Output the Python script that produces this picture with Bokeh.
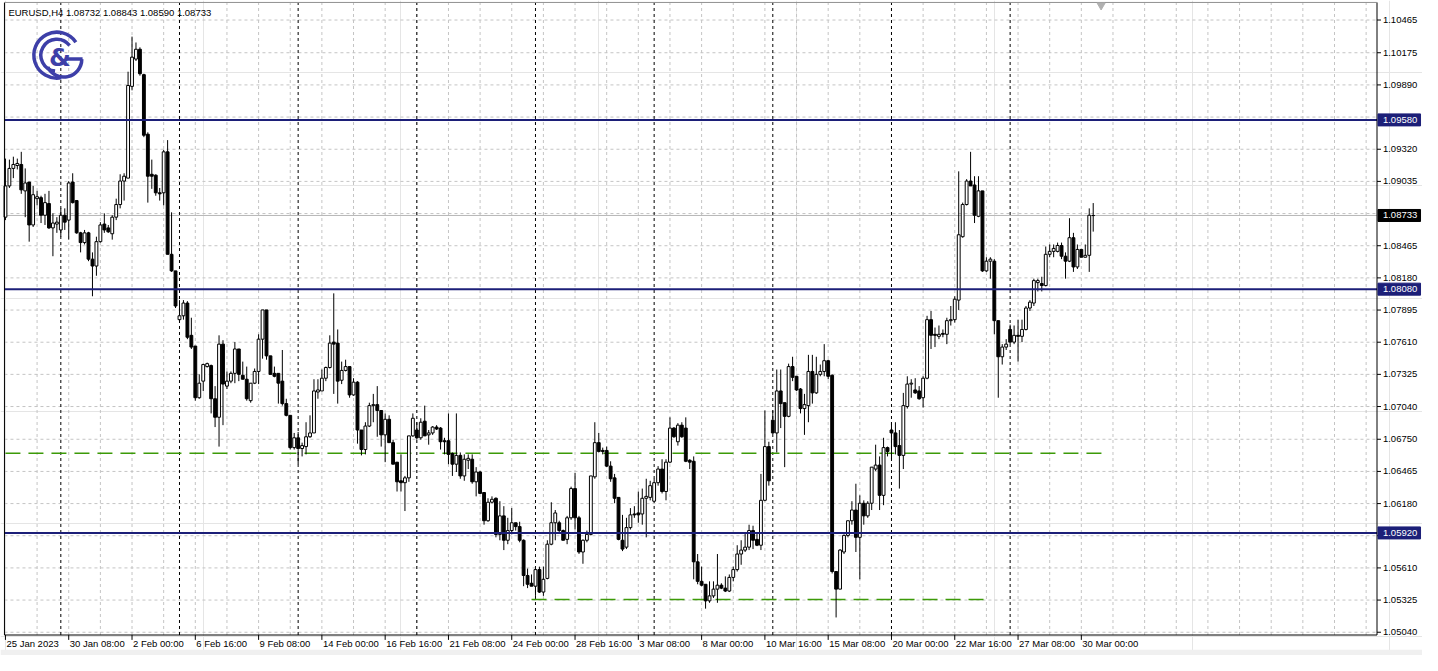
from bokeh.plotting import figure
from bokeh.models import ColumnDataSource, Range1d
from bokeh.core.properties import value
from bokeh.embed import file_html
from bokeh.resources import INLINE

header_text = "EURUSD,H4  1.08732 1.08843 1.08590 1.08733"

opens = [1.08718,1.08995,1.09150,1.09176,1.09185,1.08951,1.09029,1.08649,1.08882,1.08891,
1.08735,1.08839,1.08623,1.08657,1.08605,1.08735,1.08692,1.09029,1.08865,1.08579,
1.08493,1.08579,1.08346,1.08285,1.08501,1.08657,1.08623,1.08571,1.08718,1.08830,
1.09038,1.09064,1.09877,1.10119,1.10206,1.09981,1.09453,1.09098,1.09090,1.08934,
1.08934,1.09297,1.08389,1.08242,1.07810,1.07844,1.07957,1.07671,1.07576,1.07118,
1.07265,1.07394,1.07403,1.07109,1.06945,1.07593,1.07221,1.07265,1.07334,1.07550,
1.07317,1.07282,1.07092,1.07247,1.07351,1.07637,1.07896,1.07489,1.07334,1.07334,
1.07265,1.07066,1.06962,1.06676,1.06763,1.06668,1.06685,1.06772,1.06806,1.07169,
1.07178,1.07291,1.07386,1.07611,1.07602,1.07273,1.07360,1.07394,1.07143,1.07256,
1.06832,1.06659,1.06867,1.07048,1.07057,1.07005,1.06789,1.06927,1.06720,1.06547,
1.06382,1.06365,1.06408,1.06780,1.06832,1.06763,1.06910,1.06789,1.06806,1.06858,
1.06849,1.06737,1.06737,1.06624,1.06529,1.06607,1.06425,1.06564,1.06573,1.06373,
1.06460,1.06278,1.06028,1.06192,1.06227,1.05907,1.06071,1.05855,1.05941,1.06010,
1.05976,1.05855,1.05543,1.05474,1.05448,1.05595,1.05396,1.05517,1.05820,1.06010,
1.06010,1.05941,1.05863,1.06054,1.06313,1.06054,1.05751,1.05855,1.05907,1.06417,
1.06720,1.06651,1.06651,1.06512,1.06408,1.06235,1.05855,1.05794,1.05967,1.06088,
1.06097,1.06088,1.06227,1.06235,1.06201,1.06365,1.06486,1.06287,1.06547,1.06849,
1.06728,1.06875,1.06849,1.06564,1.06555,
1.05664,1.05491,1.05465,1.05318,1.05362,1.05422,1.05457,1.05431,1.05405,1.05526,
1.05595,1.05733,1.05768,1.05794,1.05941,1.05863,1.05811,1.06209,1.06685,1.06919,
1.06806,1.07178,1.07074,1.06953,1.07394,1.07308,1.07195,1.07022,1.07048,1.07351,
1.07161,1.07325,1.07351,1.07446,1.07317,1.05578,1.05422,1.05751,1.05898,1.06028,
1.06123,1.05881,1.06183,1.06071,1.06183,1.06486,1.06521,1.06253,1.06676,1.06832,
1.06806,1.06694,1.06607,1.07040,1.07239,1.07187,1.07178,1.07118,1.07291,1.07810,
1.07680,1.07662,1.07688,1.07680,1.07801,1.07810,1.07983,1.08545,1.08830,1.09038,
1.09003,1.08726,1.08951,1.08242,1.08328,1.08328,1.07801,1.07481,1.07567,1.07723,
1.07611,1.07671,1.07662,1.07723,1.07913,1.07957,1.08138,1.08130,1.08112,1.08389,
1.08415,1.08415,1.08467,1.08372,1.08328,1.08536,1.08277,1.08432,1.08363,1.08380,1.08732]

highs = [1.09237,1.09228,1.09254,1.09237,1.09297,1.09150,1.09029,1.08995,1.08951,1.08908,
1.08925,1.08951,1.08752,1.08718,1.08796,1.08796,1.09038,1.09107,1.08865,1.08588,
1.08605,1.08588,1.08406,1.08545,1.08674,1.08752,1.08649,1.08735,1.08882,1.09098,
1.09107,1.10007,1.10318,1.10266,1.10223,1.09989,1.09470,1.09228,1.09098,1.08977,
1.09315,1.09401,1.08761,1.08242,1.07983,1.07983,1.07974,1.07827,1.07576,1.07325,
1.07420,1.07429,1.07412,1.07221,1.07671,1.07628,1.07351,1.07351,1.07611,1.07550,
1.07438,1.07394,1.07247,1.07377,1.07680,1.07896,1.07896,1.07489,1.07394,1.07334,
1.07541,1.07109,1.06962,1.06806,1.06815,1.06720,1.06901,1.06962,1.07282,1.07282,
1.07368,1.07394,1.07671,1.08043,1.07723,1.07438,1.07455,1.07394,1.07291,1.07265,
1.06832,1.06901,1.07074,1.07152,1.07221,1.07005,1.06979,1.06962,1.06746,1.06547,
1.06616,1.06425,1.06780,1.06979,1.06901,1.06936,1.07048,1.06832,1.06867,1.06875,
1.06858,1.06763,1.06979,1.06633,1.06979,1.06633,1.06616,1.06616,1.06616,1.06503,
1.06469,1.06278,1.06227,1.06244,1.06235,1.06201,1.06157,1.06054,1.06140,1.06010,
1.06019,1.05863,1.05604,1.05552,1.05604,1.05621,1.05621,1.05855,1.06192,1.06123,
1.06028,1.05950,1.06071,1.06330,1.06451,1.06071,1.05863,1.05941,1.06425,1.06901,
1.06806,1.06676,1.06685,1.06555,1.06443,1.06235,1.06080,1.06054,1.06140,1.06157,
1.06287,1.06313,1.06400,1.06382,1.06400,1.06512,1.06573,1.06573,1.06944,1.06858,
1.06893,1.06901,1.06944,1.06573,1.06598,
1.05733,1.05621,1.05465,1.05491,1.05491,1.05733,1.05474,1.05535,1.05552,1.05621,
1.05811,1.05855,1.05924,1.05993,1.05984,1.05924,1.06443,1.07005,1.06728,1.07005,
1.07368,1.07368,1.07074,1.07420,1.07481,1.07308,1.07204,1.07152,1.07498,1.07498,
1.07481,1.07412,1.07593,1.07455,1.07325,1.05578,1.05777,1.05907,1.06028,1.06201,
1.06356,1.06253,1.06209,1.06201,1.06503,1.06702,1.06598,1.06763,1.06685,1.06901,
1.06901,1.06832,1.07161,1.07308,1.07282,1.07291,1.07221,1.07308,1.07844,1.07887,
1.07740,1.07758,1.07723,1.07827,1.07931,1.08017,1.09124,1.08847,1.09055,1.09297,
1.09081,1.09081,1.08951,1.08363,1.08363,1.08346,1.07801,1.07593,1.07637,1.07766,
1.07758,1.07810,1.07810,1.07931,1.07983,1.08173,1.08173,1.08190,1.08458,1.08476,
1.08476,1.08493,1.08493,1.08406,1.08709,1.08579,1.08476,1.08432,1.08476,1.08796,1.08843]

lows = [1.08692,1.08977,1.09064,1.09141,1.08925,1.08718,1.08501,1.08631,1.08822,1.08666,
1.08649,1.08614,1.08372,1.08579,1.08545,1.08605,1.08519,1.08839,1.08571,1.08406,
1.08476,1.08328,1.08017,1.08199,1.08493,1.08579,1.08579,1.08519,1.08692,1.08796,
1.08865,1.09064,1.09842,1.10102,1.09972,1.09427,1.08847,1.08969,1.08908,1.08865,
1.08822,1.08389,1.08233,1.07913,1.07810,1.07810,1.07637,1.07550,1.07092,1.07109,
1.07178,1.07386,1.06979,1.06858,1.06685,1.06875,1.07195,1.07247,1.07247,1.07265,
1.07282,1.07092,1.07074,1.07239,1.07239,1.07464,1.07455,1.07325,1.07299,1.07066,
1.07048,1.06953,1.06659,1.06659,1.06529,1.06598,1.06616,1.06763,1.06806,1.07109,
1.07178,1.07265,1.07377,1.07152,1.07066,1.07239,1.07351,1.07118,1.07135,1.06711,
1.06607,1.06616,1.06858,1.06901,1.06772,1.06685,1.06547,1.06720,1.06529,1.06287,
1.06287,1.06114,1.06373,1.06772,1.06746,1.06746,1.06780,1.06702,1.06789,1.06832,
1.06659,1.06616,1.06529,1.06425,1.06460,1.06400,1.06382,1.06486,1.06356,1.06244,
1.06270,1.05993,1.06019,1.06183,1.05881,1.05855,1.05768,1.05820,1.05907,1.05941,
1.05837,1.05448,1.05431,1.05448,1.05362,1.05388,1.05362,1.05509,1.05811,1.05855,
1.05924,1.05855,1.05820,1.06036,1.05950,1.05734,1.05647,1.05837,1.05898,1.06400,
1.06633,1.06616,1.06503,1.06373,1.06183,1.05855,1.05759,1.05777,1.05950,1.06054,
1.06010,1.05993,1.05881,1.06209,1.06192,1.06339,1.06270,1.06209,1.06538,1.06763,
1.06694,1.06763,1.06547,1.06486,1.05509,
1.05465,1.05448,1.05249,1.05301,1.05344,1.05301,1.05422,1.05396,1.05396,1.05491,
1.05578,1.05638,1.05751,1.05768,1.05777,1.05803,1.05768,1.06201,1.06339,1.06798,
1.06633,1.06849,1.06503,1.06945,1.07265,1.07178,1.06979,1.06789,1.06901,1.07066,
1.07152,1.07308,1.07308,1.07282,1.05561,1.05171,1.05422,1.05733,1.05881,1.05993,
1.05751,1.05509,1.05993,1.06054,1.06123,1.06469,1.06123,1.06166,1.06598,1.06573,
1.06616,1.06313,1.06486,1.07022,1.07118,1.07152,1.07100,1.07031,1.07282,1.07550,
1.07567,1.07637,1.07654,1.07593,1.07758,1.07784,1.07896,1.08536,1.08822,1.08995,
1.08666,1.08718,1.08233,1.08233,1.08173,1.07680,1.07118,1.07412,1.07541,1.07593,
1.07593,1.07438,1.07611,1.07714,1.07887,1.07931,1.08060,1.08060,1.08104,1.08363,
1.08363,1.08406,1.08346,1.08173,1.08320,1.08233,1.08259,1.08363,1.08363,1.08233,1.08590]

closes = [1.08995,1.09150,1.09185,1.09194,1.08960,1.09021,1.08649,1.08917,1.08899,1.08735,
1.08847,1.08623,1.08666,1.08674,1.08735,1.08674,1.09021,1.08847,1.08579,1.08493,
1.08579,1.08346,1.08285,1.08501,1.08649,1.08605,1.08588,1.08718,1.08830,1.09038,
1.09081,1.09885,1.10136,1.10206,1.09989,1.09444,1.09081,1.09081,1.08934,1.08925,
1.09297,1.08389,1.08242,1.07931,1.07844,1.07957,1.07654,1.07567,1.07118,1.07247,
1.07412,1.07420,1.07109,1.06945,1.07593,1.07239,1.07265,1.07334,1.07550,1.07325,
1.07282,1.07109,1.07247,1.07351,1.07637,1.07896,1.07489,1.07325,1.07308,1.07247,
1.07066,1.06962,1.06676,1.06763,1.06668,1.06694,1.06772,1.06806,1.07178,1.07187,
1.07291,1.07386,1.07602,1.07593,1.07265,1.07360,1.07394,1.07143,1.07256,1.06832,
1.06659,1.06867,1.07048,1.07057,1.07005,1.06789,1.06927,1.06720,1.06529,1.06373,
1.06365,1.06408,1.06780,1.06936,1.06763,1.06901,1.06780,1.06806,1.06858,1.06841,
1.06728,1.06728,1.06616,1.06529,1.06607,1.06425,1.06573,1.06581,1.06373,1.06460,
1.06270,1.06028,1.06192,1.06218,1.05907,1.06071,1.05855,1.05941,1.06010,1.05976,
1.05855,1.05543,1.05465,1.05448,1.05595,1.05396,1.05509,1.05820,1.06010,1.06097,
1.05941,1.05855,1.06054,1.06313,1.06054,1.05751,1.05855,1.05907,1.06425,1.06720,
1.06642,1.06642,1.06512,1.06400,1.06227,1.05863,1.05777,1.05967,1.06080,1.06080,
1.06080,1.06227,1.06244,1.06339,1.06365,1.06486,1.06287,1.06547,1.06849,1.06772,
1.06875,1.06772,1.06555,1.06547,1.05664,
1.05491,1.05457,1.05318,1.05362,1.05422,1.05457,1.05431,1.05405,1.05526,1.05595,
1.05733,1.05768,1.05794,1.05941,1.05855,1.05811,1.06209,1.06685,1.06382,1.06806,
1.07178,1.07066,1.06953,1.07394,1.07299,1.07187,1.07022,1.07057,1.07351,1.07161,
1.07325,1.07351,1.07446,1.07308,1.05578,1.05422,1.05768,1.05898,1.06028,1.06123,
1.05881,1.06183,1.06071,1.06183,1.06503,1.06521,1.06253,1.06676,1.06642,1.06806,
1.06685,1.06607,1.07048,1.07239,1.07247,1.07161,1.07109,1.07291,1.07810,1.07671,
1.07671,1.07680,1.07680,1.07801,1.07810,1.07991,1.08562,1.08830,1.09038,1.08995,
1.08735,1.08951,1.08242,1.08328,1.08346,1.07801,1.07481,1.07567,1.07593,1.07611,
1.07671,1.07662,1.07723,1.07913,1.07965,1.08156,1.08156,1.08112,1.08389,1.08415,
1.08441,1.08467,1.08372,1.08328,1.08536,1.08277,1.08432,1.08363,1.08380,1.08735,1.08733]

time_labels = ["25 Jan 2023", "30 Jan 08:00", "2 Feb 00:00", "6 Feb 16:00", "9 Feb 08:00",
               "14 Feb 00:00", "16 Feb 16:00", "21 Feb 08:00", "24 Feb 00:00", "28 Feb 16:00",
               "3 Mar 08:00", "8 Mar 00:00", "10 Mar 16:00", "15 Mar 08:00", "20 Mar 00:00",
               "22 Mar 16:00", "27 Mar 08:00", "30 Mar 00:00"]
bars_per_label = 16
bars_per_grid = 8
week_start_bars = [14, 44, 74, 104, 134, 164, 194, 224, 254]

price_ticks = [1.10465, 1.10175, 1.09890, 1.09320, 1.09035, 1.08465, 1.08180, 1.07895,
               1.07610, 1.07325, 1.07040, 1.06750, 1.06465, 1.06180, 1.05895, 1.05610,
               1.05325, 1.05040]
hidden_grid_prices = [1.09605, 1.08750]
level_prices = [1.09580, 1.08080, 1.05920]
bid_price = 1.08733
support_prices = [1.06625, 1.05330]
support_start_bars = [0, 133]
support_end_bars = [278, 248]

NAVY = "#1c1f78"
GREEN = "#3c9a08"
LOGO = "#3d3fa8"
GRID = "#c4c4c4"
FONT = "Liberation Sans"
FS = "9.5px"

# ---- layout helpers: screen position (reference pixels) -> data coordinates ----
def bx(px):
    return (px - 5.0) / 4.0

def py(px):
    return 1.10638 - 0.0000865 * px

L, R = bx(4), bx(1392)          # chart area edges (bars)
T, B = py(2), py(650)           # chart area edges (price)

p = figure(width=1422, height=655, x_range=Range1d(bx(0), bx(1438)), y_range=Range1d(py(671), py(0)),
           x_axis_location=None, y_axis_location=None, output_backend="svg", toolbar_location=None,
           min_border=0, background_fill_color="white", border_fill_color="white",
           outline_line_color=None)

# bottom window strip
p.quad(left=[bx(0)], right=[bx(1438)], top=[py(665)], bottom=[py(671)], fill_color="#f0f0f0", line_color=None)

# grid
grid_prices = price_ticks + hidden_grid_prices
p.segment(x0=[L] * len(grid_prices), x1=[R] * len(grid_prices), y0=grid_prices, y1=grid_prices,
          line_color=GRID, line_dash="3 3", line_width=1)
vgrid = list(range(bars_per_grid, int(R) + 1, bars_per_grid))
p.segment(x0=vgrid, x1=vgrid, y0=[B] * len(vgrid), y1=[T] * len(vgrid),
          line_color=GRID, line_dash="3 3", line_width=1)

# week separators
p.segment(x0=week_start_bars, x1=week_start_bars, y0=[B] * len(week_start_bars), y1=[T] * len(week_start_bars),
          line_color="black", line_dash="3 3", line_width=1)

# support dashed lines
p.segment(x0=support_start_bars, x1=support_end_bars, y0=support_prices, y1=support_prices,
          line_color=GREEN, line_width=1.5, line_dash="15 8")

# bid line
p.segment(x0=[L], x1=[R], y0=[bid_price], y1=[bid_price], line_color="#b8b8b8", line_width=1)

# candles
n = len(opens)
xs = list(range(n))
src = ColumnDataSource(dict(
    x=xs, o=opens, h=highs, l=lows, c=closes,
    top=[max(o, c) for o, c in zip(opens, closes)],
    bottom=[min(o, c) for o, c in zip(opens, closes)],
    fill=["white" if c >= o else "black" for o, c in zip(opens, closes)]))
p.segment(x0="x", y0="h", x1="x", y1="l", source=src, line_color="black", line_width=1)
p.vbar(x="x", width=0.72, top="top", bottom="bottom", fill_color="fill", line_color="black",
       line_width=1, source=src)

# horizontal levels
p.segment(x0=[L] * 3, x1=[R] * 3, y0=level_prices, y1=level_prices, line_color=NAVY, line_width=2)

# chart border
p.segment(x0=[L, L, R, L], x1=[L, R, R, R], y0=[B, B, B, T], y1=[T, B, T, T],
          line_color=["black", "black", "black", "#909090"], line_width=1)

# chart-shift marker
p.scatter(x=[n + 1], y=[py(5)], marker="inverted_triangle", size=8, fill_color="#b0b0b0", line_color="#b0b0b0")

# right price scale
p.segment(x0=[R] * len(price_ticks), x1=[bx(1396)] * len(price_ticks), y0=price_ticks, y1=price_ticks,
          line_color="black", line_width=1)
p.text(x=[bx(1398)] * len(price_ticks), y=price_ticks, text=[f"{t:.5f}" for t in price_ticks],
       text_font=value(FONT), text_font_size=FS, text_color="black", text_align="left", text_baseline="middle")

box_prices = level_prices + [bid_price]
box_colors = [NAVY, NAVY, NAVY, "black"]
p.rect(x=[(bx(1393) + bx(1436)) / 2] * 4, y=box_prices, width=bx(1436) - bx(1393), height=12,
       height_units="screen", fill_color=box_colors, line_color=box_colors)
p.text(x=[bx(1398)] * 4, y=box_prices, text=[f"{v:.5f}" for v in box_prices],
       text_font=value(FONT), text_font_size=FS, text_color="white", text_align="left", text_baseline="middle")

# time scale
label_bars = [i * bars_per_label for i in range(len(time_labels))]
p.segment(x0=label_bars, x1=label_bars, y0=[B] * len(label_bars), y1=[py(655)] * len(label_bars),
          line_color="black", line_width=1)
p.text(x=label_bars, y=[py(659)] * len(label_bars), text=time_labels, x_offset=1,
       text_font=value(FONT), text_font_size=FS, text_color="black", text_align="left", text_baseline="middle")

# header
p.text(x=[bx(8)], y=[py(12)], text=[header_text], text_font=value(FONT), text_font_size=FS,
       text_color="black", text_align="left", text_baseline="middle")

# logo
cx, cy = bx(57), py(56)
p.arc(x=[cx], y=[cy], radius=23, radius_units="screen", start_angle=0.6, end_angle=4.9,
      line_color=LOGO, line_width=3.5)
p.arc(x=[cx], y=[cy], radius=16, radius_units="screen", start_angle=0.65, end_angle=4.6,
      line_color=LOGO, line_width=3.5)
p.arc(x=[bx(64)], y=[py(60)], radius=18, radius_units="screen", start_angle=3.6, end_angle=6.28,
      line_color=LOGO, line_width=3.5)
p.segment(x0=[bx(65)], x1=[bx(83)], y0=[py(60)], y1=[py(60)], line_color=LOGO, line_width=3.5)
p.text(x=[bx(60)], y=[py(58)], text=["&"], text_font=value("DejaVu Sans"), text_font_size="25px",
       text_font_style="bold", text_color=LOGO, text_align="center", text_baseline="middle")

open("out.html", "w").write(file_html(p, INLINE))
